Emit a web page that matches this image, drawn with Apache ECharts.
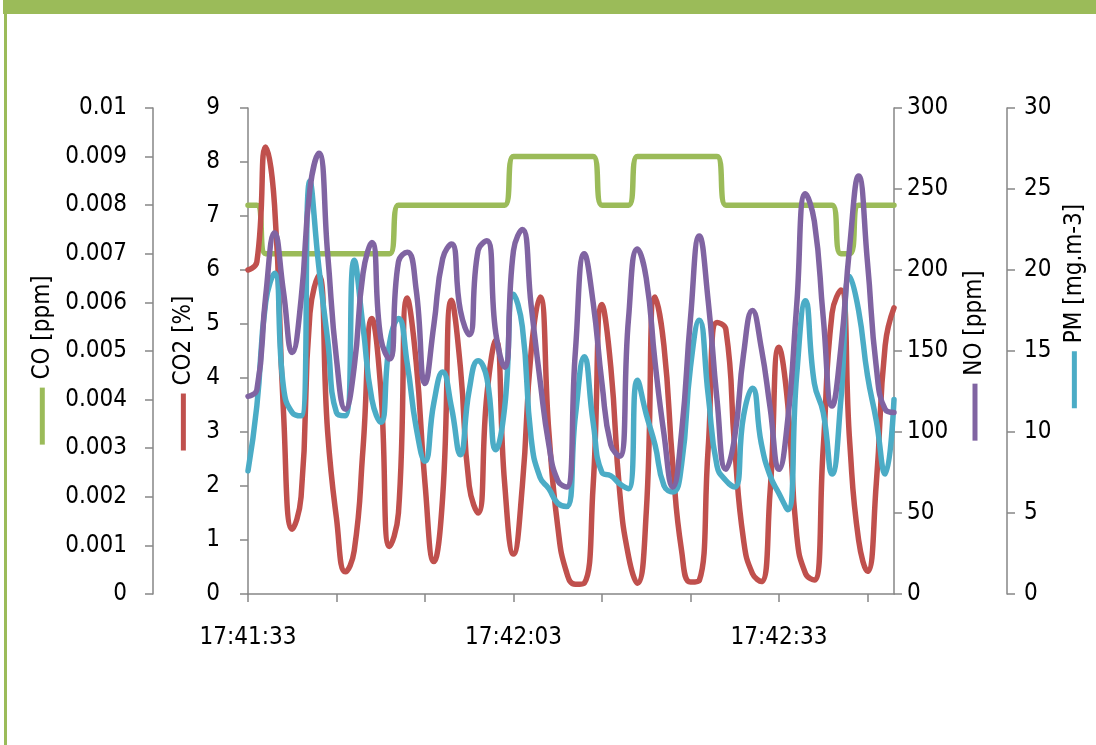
<!DOCTYPE html>
<html>
<head>
<meta charset="utf-8">
<script src="https://cdn.jsdelivr.net/npm/echarts@6/dist/echarts.min.js"></script>
<style>
  html, body { margin: 0; padding: 0; background: #ffffff; }
  #chart { width: 1096px; height: 745px; }
</style>
</head>
<body>
<div id="chart"></div>
<script>
// One reading per second, 17:41:33 to 17:42:46
const times = [
  '17:41:33','17:41:34','17:41:35','17:41:36','17:41:37','17:41:38','17:41:39','17:41:40','17:41:41','17:41:42',
  '17:41:43','17:41:44','17:41:45','17:41:46','17:41:47','17:41:48','17:41:49','17:41:50','17:41:51','17:41:52',
  '17:41:53','17:41:54','17:41:55','17:41:56','17:41:57','17:41:58','17:41:59','17:42:00','17:42:01','17:42:02',
  '17:42:03','17:42:04','17:42:05','17:42:06','17:42:07','17:42:08','17:42:09','17:42:10','17:42:11','17:42:12',
  '17:42:13','17:42:14','17:42:15','17:42:16','17:42:17','17:42:18','17:42:19','17:42:20','17:42:21','17:42:22',
  '17:42:23','17:42:24','17:42:25','17:42:26','17:42:27','17:42:28','17:42:29','17:42:30','17:42:31','17:42:32',
  '17:42:33','17:42:34','17:42:35','17:42:36','17:42:37','17:42:38','17:42:39','17:42:40','17:42:41','17:42:42',
  '17:42:43','17:42:44','17:42:45','17:42:46'
];

// CO [ppm]
const coValues = [
  0.008, 0.008, 0.007, 0.007, 0.007, 0.007, 0.007, 0.007, 0.007, 0.007,
  0.007, 0.007, 0.007, 0.007, 0.007, 0.007, 0.007, 0.008, 0.008, 0.008,
  0.008, 0.008, 0.008, 0.008, 0.008, 0.008, 0.008, 0.008, 0.008, 0.008,
  0.009, 0.009, 0.009, 0.009, 0.009, 0.009, 0.009, 0.009, 0.009, 0.009,
  0.008, 0.008, 0.008, 0.008, 0.009, 0.009, 0.009, 0.009, 0.009, 0.009,
  0.009, 0.009, 0.009, 0.009, 0.008, 0.008, 0.008, 0.008, 0.008, 0.008,
  0.008, 0.008, 0.008, 0.008, 0.008, 0.008, 0.008, 0.007, 0.007, 0.008,
  0.008, 0.008, 0.008, 0.008
];

// CO2 [%]
const co2Values = [
  6.0, 6.15, 8.28, 7.2, 3.4, 1.2, 1.8, 5.2, 5.9, 3.0,
  1.4, 0.41, 0.8, 2.7, 5.1, 3.8, 0.88, 1.5, 5.48, 4.3,
  2.05, 0.6, 1.8, 5.44, 4.2, 2.0, 1.5, 3.7, 4.7, 2.05,
  0.74, 2.0, 4.5, 5.5, 3.0, 1.25, 0.4, 0.18, 0.2, 2.0,
  5.36, 4.2, 1.9, 0.7, 0.2, 1.5, 5.5, 4.6, 2.4, 0.8,
  0.22, 0.25, 2.7, 5.03, 4.9, 2.7, 1.0, 0.38, 0.23, 1.9,
  4.57, 3.5, 1.1, 0.38, 0.26, 2.7, 5.2, 5.63, 2.8, 1.0,
  0.42, 2.05, 4.6, 5.3
];

// NO [ppm]
const noValues = [
  122, 126, 184, 223, 187, 149, 182, 250, 272, 210,
  145, 114, 140, 198, 217, 158, 145, 205, 211, 188,
  130, 166, 207, 216, 175, 160, 212, 218, 161, 140,
  212, 225, 178, 132, 92, 70, 66, 150, 210, 180,
  130, 92, 85, 170, 213, 195, 143, 99, 66, 100,
  170, 221, 181, 120, 77, 97, 148, 175, 152, 115,
  77, 108, 178, 247, 230, 171, 116, 152, 215, 258,
  205, 140, 114, 112
];

// PM [mg.m-3]
const pmValues = [
  7.6, 11.6, 18.0, 19.8, 12.8, 11.2, 11.0, 25.5, 20.2, 15.7,
  11.2, 11.0, 20.6, 16.5, 12.0, 10.6, 15.5, 17.0, 14.2, 10.3,
  8.2, 11.8, 13.7, 11.5, 8.6, 12.6, 14.4, 13.3, 8.9, 11.5,
  18.5, 16.5, 9.6, 7.2, 6.5, 5.6, 5.4, 11.0, 14.65, 10.6,
  7.5, 7.3, 6.8, 6.5, 13.2, 11.1, 9.2, 6.7, 6.3, 8.0,
  14.0, 16.9, 12.3, 7.9, 7.0, 6.6, 11.0, 12.7, 9.3, 7.3,
  6.2, 5.2, 13.5, 18.1, 13.0, 11.2, 7.4, 12.0, 19.6, 17.5,
  13.5, 10.7, 7.4, 12.0
];

// Axis ranges: [min, max, step]
const coRange  = [0, 0.01, 0.001];
const co2Range = [0, 9, 1];
const noRange  = [0, 300, 50];
const pmRange  = [0, 30, 5];

const FONT = "'DejaVu Sans Condensed', 'DejaVu Sans', sans-serif";
const AXIS_GREY = '#868686';
const C_CO = '#9bbb59', C_CO2 = '#c0504d', C_NO = '#8064a2', C_PM = '#4bacc6';

// Axis title: a short line in the series colour followed by the text
function axisTitle(color, shiftPad) {
  return {
    color: '#000',
    padding: shiftPad,
    rich: {
      mk: { width: 57, height: 5, backgroundColor: color, verticalAlign: 'middle' },
      gap: { width: 8 },
      t: { fontSize: 24, fontFamily: FONT, color: '#000', verticalAlign: 'middle' }
    }
  };
}

function valueAxis(range, opts) {
  return Object.assign({
    type: 'value',
    min: range[0],
    max: range[1],
    interval: range[2],
    splitLine: { show: false },
    axisLine: { show: true, lineStyle: { color: AXIS_GREY, width: 1.5 } },
    axisTick: { show: true, length: 8, lineStyle: { color: AXIS_GREY, width: 1.5 } },
    nameLocation: 'middle',
    nameRotate: 90
  }, opts);
}

const chart = echarts.init(document.getElementById('chart'), null, { renderer: 'canvas' });

chart.setOption({
  animation: false,
  backgroundColor: '#ffffff',
  graphic: [
    { type: 'rect', shape: { x: 3, y: 0, width: 1093, height: 14 }, style: { fill: C_CO } },
    { type: 'rect', shape: { x: 4, y: 0, width: 3, height: 745 }, style: { fill: C_CO } }
  ],
  grid: { left: 248, right: 202, top: 108, bottom: 151, containLabel: false },
  xAxis: {
    type: 'category',
    data: times,
    boundaryGap: false,
    axisLine: { lineStyle: { color: AXIS_GREY, width: 1.5 } },
    axisTick: {
      length: 8,
      interval: function (i) { return i % 10 === 0; },
      lineStyle: { color: AXIS_GREY, width: 1.5 }
    },
    axisLabel: {
      interval: function (i) { return i % 30 === 0; },
      margin: 32,
      fontSize: 24,
      fontFamily: FONT,
      color: '#000'
    },
    splitLine: { show: false }
  },
  yAxis: [
    valueAxis(coRange, {
      position: 'left', offset: 95,
      name: '{mk|}{gap|}{t|CO [ppm]}', nameGap: 97,
      nameTextStyle: axisTitle(C_CO, [0, 18, 0, 0]),
      axisLabel: { margin: 26, fontSize: 24, fontFamily: FONT, color: '#000' }
    }),
    valueAxis(co2Range, {
      position: 'left', offset: 0,
      name: '{mk|}{gap|}{t|CO2 [%]}', nameGap: 52,
      nameTextStyle: axisTitle(C_CO2, [0, 44, 0, 0]),
      axisLabel: { margin: 28, fontSize: 24, fontFamily: FONT, color: '#000' }
    }),
    valueAxis(noRange, {
      position: 'right', offset: 0,
      name: '{mk|}{gap|}{t|NO [ppm]}', nameGap: 69,
      nameTextStyle: axisTitle(C_NO, [0, 9, 0, 0]),
      axisLabel: { margin: 13, fontSize: 24, fontFamily: FONT, color: '#000' }
    }),
    valueAxis(pmRange, {
      position: 'right', offset: 113,
      name: '{mk|}{gap|}{t|PM [mg.m-3]}', nameGap: 49,
      nameTextStyle: axisTitle(C_PM, [0, 0, 0, 90]),
      axisLabel: { margin: 17, fontSize: 24, fontFamily: FONT, color: '#000' }
    })
  ],
  // Drawing order: CO, CO2, PM, then NO on top
  series: [
    { name: 'CO', type: 'line', yAxisIndex: 0, data: coValues, color: C_CO },
    { name: 'CO2', type: 'line', yAxisIndex: 1, data: co2Values, color: C_CO2 },
    { name: 'PM', type: 'line', yAxisIndex: 3, data: pmValues, color: C_PM },
    { name: 'NO', type: 'line', yAxisIndex: 2, data: noValues, color: C_NO }
  ].map(function (s) {
    return Object.assign(s, {
      smooth: 0.5,
      showSymbol: false,
      symbol: 'none',
      lineStyle: { width: 5.5, color: s.color, cap: 'round', join: 'round' }
    });
  })
});
</script>
</body>
</html>
